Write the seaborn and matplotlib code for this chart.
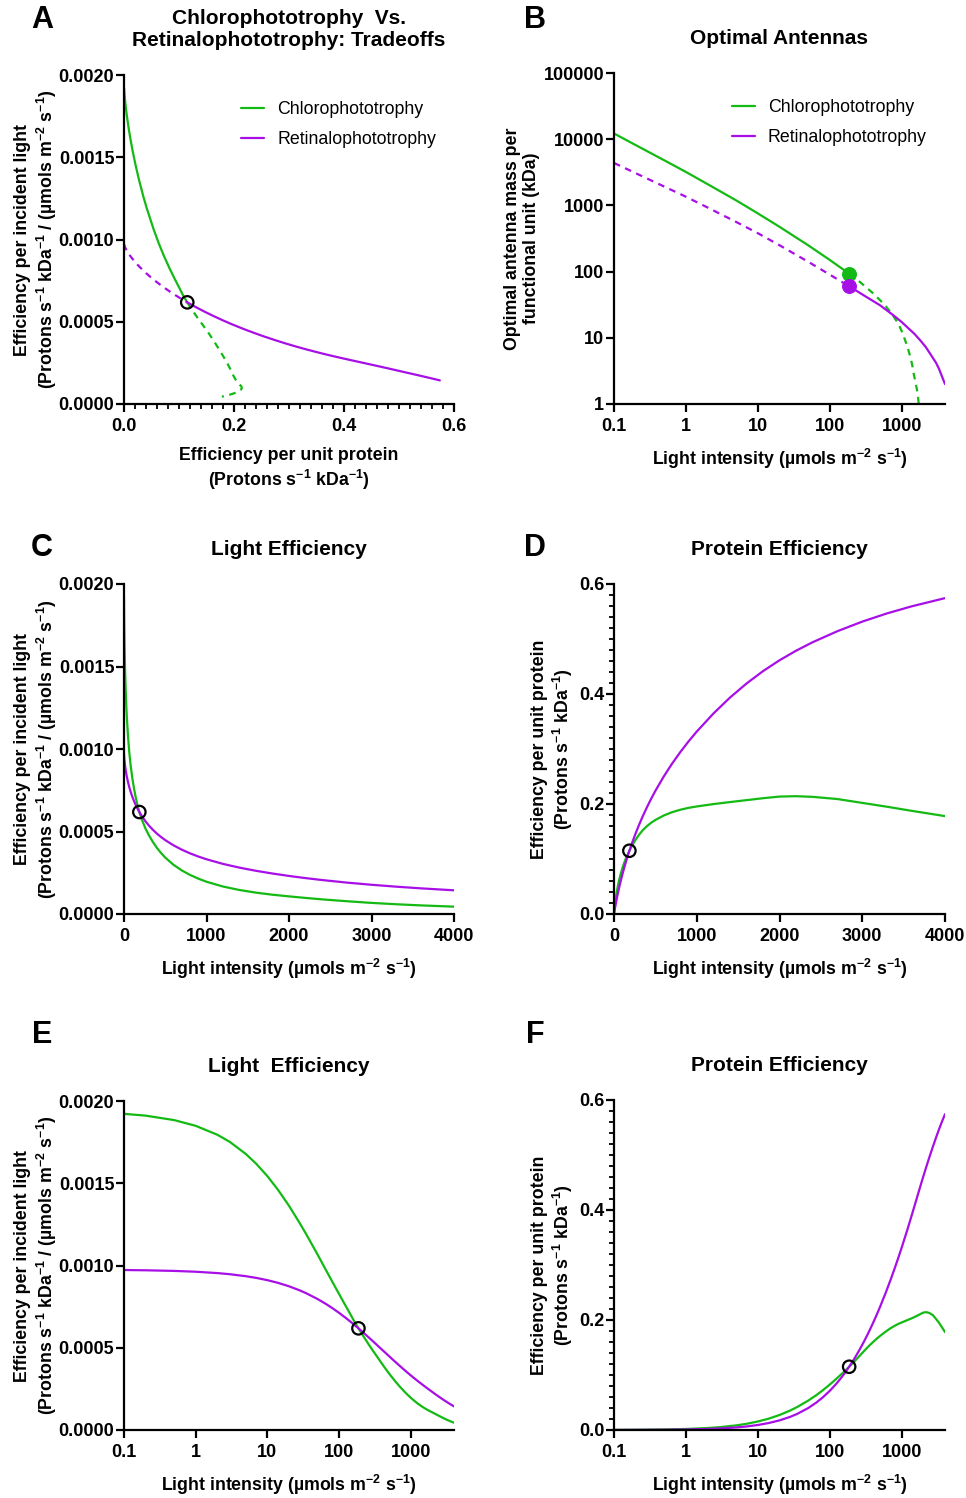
import matplotlib
matplotlib.use("Agg")
import matplotlib.pyplot as plt
import seaborn as sns
import numpy as np
import pandas as pd
from matplotlib.lines import Line2D
from matplotlib.ticker import FixedLocator, MultipleLocator, FuncFormatter, NullLocator, FormatStrFormatter

# ---------------- data ----------------
light_intensity = [0.1, 0.2, 0.5, 1, 2, 3, 5, 7, 10, 14, 20, 28, 35, 50, 65, 80,
                   100, 120, 140, 160, 186, 220, 260, 300, 350, 400, 450, 500,
                   600, 700, 800, 900, 1000, 1200, 1400, 1600, 1800, 2000, 2200,
                   2400, 2700, 3000, 3300, 3600, 4000]

chloro_light_eff = [0.001922, 0.001911, 0.001884, 0.001849, 0.001795, 0.001751,
                    0.001678, 0.001618, 0.001543, 0.001461, 0.001363, 0.001260,
                    0.001188, 0.001067, 0.000975, 0.000903, 0.000826, 0.000764,
                    0.000712, 0.000666, 0.000618, 0.0005673, 0.0005185, 0.0004787,
                    0.0004366, 0.0004000, 0.0003689, 0.000342, 0.0002983, 0.0002643,
                    0.0002369, 0.0002144, 0.0001955, 0.0001665, 0.0001454, 0.0001294,
                    0.0001169, 0.00010675, 0.0000974, 0.00008875, 0.0000774,
                    0.0000673, 0.0000591, 0.0000521, 0.0000445]

chloro_protein_eff = [0.000192, 0.000382, 0.000942, 0.001849, 0.00359, 0.005253,
                      0.00839, 0.01133, 0.01543, 0.02045, 0.02726, 0.03528, 0.04158,
                      0.05335, 0.06338, 0.07224, 0.0826, 0.09168, 0.09968, 0.10656,
                      0.1150, 0.1248, 0.1348, 0.1436, 0.1528, 0.1600, 0.1660, 0.1710,
                      0.1790, 0.1850, 0.1895, 0.1930, 0.1955, 0.1998, 0.2035, 0.2070,
                      0.2105, 0.2135, 0.2142, 0.2130, 0.2090, 0.2020, 0.1950, 0.1875,
                      0.1780]

retinal_light_eff = [0.0009725, 0.0009709, 0.0009671, 0.0009621, 0.0009539, 0.000947,
                     0.000935, 0.0009246, 0.0009108, 0.0008947, 0.0008737, 0.0008495,
                     0.0008308, 0.0007963, 0.0007671, 0.0007416, 0.0007119, 0.0006859,
                     0.0006628, 0.0006421, 0.000618, 0.0005902, 0.0005619, 0.0005372,
                     0.0005103, 0.0004868, 0.0004662, 0.0004478, 0.0004162, 0.00039,
                     0.0003677, 0.0003485, 0.0003317, 0.0003036, 0.0002809, 0.0002618,
                     0.0002453, 0.00023065, 0.0002176, 0.0002059, 0.0001904, 0.0001772,
                     0.0001656, 0.0001554, 0.0001436]

retinal_protein_eff = [0.0000973, 0.000194, 0.000484, 0.000962, 0.001908, 0.002841,
                       0.004675, 0.006472, 0.009108, 0.012526, 0.017474, 0.023786,
                       0.029078, 0.039815, 0.049862, 0.059328, 0.07119, 0.082308,
                       0.092792, 0.102736, 0.1150, 0.129844, 0.146094, 0.16116,
                       0.178605, 0.19472, 0.20979, 0.2239, 0.24972, 0.2730, 0.29416,
                       0.31365, 0.3317, 0.3643, 0.3933, 0.4189, 0.4415, 0.4613, 0.4787,
                       0.4941, 0.5142, 0.5316, 0.5466, 0.5595, 0.5743]

crossing_intensity = 186
crossing_light_eff = 0.000618
crossing_protein_eff = 0.115

# optimal antennas (panel B)
chloro_ant_I_opt = [0.1, 0.2, 0.5, 1, 2, 5, 10, 20, 50, 100, 186]
chloro_ant_opt = [12200, 8150, 4800, 3200, 2095, 1190, 757, 475, 250, 150, 93]
chloro_ant_I_sub = [186, 250, 320, 400, 500, 600, 700, 800, 900, 1000, 1120, 1220,
                    1320, 1400, 1470, 1560, 1640, 1690, 1725]
chloro_ant_sub = [93, 73, 58, 47, 37, 30, 24.4, 19.8, 16.3, 12.6, 9.1, 6.9,
                  5.1, 3.9, 2.85, 2.1, 1.59, 1.25, 1.0]

retinal_ant_I_sub = [0.1, 0.2, 0.5, 1, 2, 5, 10, 20, 50, 100, 186]
retinal_ant_sub = [4375, 3070, 1923, 1352, 929, 562, 380, 250, 141, 90, 60]
retinal_ant_I_opt = [186, 300, 500, 770, 1000, 1190, 1500, 1820, 2150, 2500, 2800,
                     3000, 3300, 3600, 3800, 4000]
retinal_ant_opt = [60, 43.5, 31, 21.8, 17.3, 14.5, 11.5, 9.1, 7.3, 5.7, 4.7,
                   4.2, 3.4, 2.67, 2.3, 2.0]

series_names = ["Chlorophototrophy", "Retinalophototrophy"]

# ---------------- style ----------------
GREEN = "#14BA14"
PURPLE = "#A70FE6"
LW = 1.6
DASH = (0, (3, 2.5))

sns.set_theme(style="ticks")
plt.rcParams.update({
    "font.family": ["Liberation Sans", "DejaVu Sans"],
    "font.weight": "bold",
    "axes.labelweight": "bold",
    "axes.titleweight": "bold",
    "mathtext.fontset": "custom",
    "mathtext.rm": "Liberation Sans:bold",
    "mathtext.it": "Liberation Sans:bold",
    "mathtext.bf": "Liberation Sans:bold",
    "mathtext.default": "rm",
    "axes.edgecolor": "black",
    "axes.linewidth": 1.6,
    "xtick.color": "black",
    "ytick.color": "black",
    "text.color": "black",
    "axes.labelcolor": "black",
    "xtick.labelsize": 13,
    "ytick.labelsize": 13,
    "axes.labelsize": 12.8,
    "axes.titlesize": 15,
})

W, H = 966, 1498
fig = plt.figure(figsize=(W / 100, H / 100), dpi=100)


def box(l, t, r, b):
    return [l / W, 1 - b / H, (r - l) / W, (b - t) / H]


axA = fig.add_axes(box(124, 75, 454, 404))
axB = fig.add_axes(box(614, 73, 945, 404))
axC = fig.add_axes(box(124, 584, 454, 914))
axD = fig.add_axes(box(614, 584, 945, 914))
axE = fig.add_axes(box(124, 1101, 454, 1430))
axF = fig.add_axes(box(614, 1100, 945, 1430))

I = np.array(light_intensity, dtype=float)
chl_L = np.array(chloro_light_eff)
chl_P = np.array(chloro_protein_eff)
ret_L = np.array(retinal_light_eff)
ret_P = np.array(retinal_protein_eff)
low = I <= crossing_intensity
high = I >= crossing_intensity


def line(ax, x, y, color, dashed=False):
    kw = dict(x=np.asarray(x, dtype=float), y=np.asarray(y, dtype=float), ax=ax,
              color=color, lw=LW, sort=False, estimator=None, legend=False)
    if dashed:
        kw["linestyle"] = DASH
    sns.lineplot(**kw)


def open_circle(ax, x, y):
    ax.scatter([x], [y], s=80, facecolors="none", edgecolors="black",
               linewidths=1.6, zorder=5, clip_on=False)


def style_axes(ax):
    sns.despine(ax=ax)
    ax.tick_params(which="major", length=6, width=1.6, color="black")
    ax.tick_params(which="minor", length=3.5, width=1.3, color="black")
    ax.tick_params(axis="y", which="both", pad=1)
    ax.tick_params(axis="x", which="both", pad=4)


y_light_label = ("Efficiency per incident light\n"
                 "(Protons s$^{-1}$ kDa$^{-1}$ / (µmols m$^{-2}$ s$^{-1}$)")
y_prot_label = "Efficiency per unit protein\n(Protons s$^{-1}$ kDa$^{-1}$)"
x_light_label = "Light intensity (µmols m$^{-2}$ s$^{-1}$)"
x_prot_label = "Efficiency per unit protein\n(Protons s$^{-1}$ kDa$^{-1}$)"

legend_handles = [Line2D([0], [0], color=GREEN, lw=LW),
                  Line2D([0], [0], color=PURPLE, lw=LW)]


def add_legend(ax, x0, y0):
    ax.legend(legend_handles, series_names, loc="upper left",
              bbox_to_anchor=(x0, y0), frameon=False, borderpad=0,
              borderaxespad=0, handlelength=1.3, handletextpad=0.75,
              labelspacing=0.72, prop={"weight": "normal", "size": 12.8})


log_fmt = FuncFormatter(lambda v, p: f"{v:g}")
TPAD = 21

# ---------------- Panel A ----------------
line(axA, chl_P[low], chl_L[low], GREEN)
line(axA, chl_P[high], chl_L[high], GREEN, dashed=True)
line(axA, ret_P[low], ret_L[low], PURPLE, dashed=True)
line(axA, ret_P[high], ret_L[high], PURPLE)
open_circle(axA, crossing_protein_eff, crossing_light_eff)
axA.set_xlim(0, 0.6)
axA.set_ylim(0, 0.002)
axA.xaxis.set_major_locator(MultipleLocator(0.2))
axA.xaxis.set_minor_locator(MultipleLocator(0.02))
axA.xaxis.set_major_formatter(FormatStrFormatter("%.1f"))
axA.yaxis.set_major_locator(MultipleLocator(0.0005))
axA.yaxis.set_major_formatter(FormatStrFormatter("%.4f"))
axA.set_xlabel(x_prot_label, labelpad=9)
axA.set_ylabel(y_light_label, labelpad=0)
axA.set_title("Chlorophototrophy  Vs.\nRetinalophototrophy: Tradeoffs", pad=TPAD)
style_axes(axA)
add_legend(axA, 0.355, 0.92)

# ---------------- Panel B ----------------
line(axB, chloro_ant_I_opt, chloro_ant_opt, GREEN)
line(axB, chloro_ant_I_sub, chloro_ant_sub, GREEN, dashed=True)
line(axB, retinal_ant_I_sub, retinal_ant_sub, PURPLE, dashed=True)
line(axB, retinal_ant_I_opt, retinal_ant_opt, PURPLE)
axB.scatter([chloro_ant_I_opt[-1]], [chloro_ant_opt[-1]], s=95, color=GREEN, zorder=5)
axB.scatter([retinal_ant_I_opt[0]], [retinal_ant_opt[0]], s=95, color=PURPLE, zorder=5)
axB.set_xscale("log")
axB.set_yscale("log")
axB.set_xlim(0.1, 4000)
axB.set_ylim(1, 100000)
axB.xaxis.set_major_locator(FixedLocator([0.1, 1, 10, 100, 1000]))
axB.yaxis.set_major_locator(FixedLocator([1, 10, 100, 1000, 10000, 100000]))
axB.xaxis.set_minor_locator(NullLocator())
axB.yaxis.set_minor_locator(NullLocator())
axB.xaxis.set_major_formatter(log_fmt)
axB.yaxis.set_major_formatter(log_fmt)
axB.set_xlabel(x_light_label, labelpad=9)
axB.set_ylabel("Optimal antenna mass per\nfunctional unit (kDa)", labelpad=2.5)
axB.set_title("Optimal Antennas", pad=TPAD)
style_axes(axB)
add_legend(axB, 0.355, 0.92)

# ---------------- Panel C ----------------
line(axC, I, chl_L, GREEN)
line(axC, I, ret_L, PURPLE)
open_circle(axC, crossing_intensity, crossing_light_eff)
axC.set_xlim(0, 4000)
axC.set_ylim(0, 0.002)
axC.xaxis.set_major_locator(MultipleLocator(1000))
axC.yaxis.set_major_locator(MultipleLocator(0.0005))
axC.yaxis.set_major_formatter(FormatStrFormatter("%.4f"))
axC.set_xlabel(x_light_label, labelpad=9)
axC.set_ylabel(y_light_label, labelpad=0)
axC.set_title("Light Efficiency", pad=TPAD)
style_axes(axC)

# ---------------- Panel D ----------------
line(axD, I, chl_P, GREEN)
line(axD, I, ret_P, PURPLE)
open_circle(axD, crossing_intensity, crossing_protein_eff)
axD.set_xlim(0, 4000)
axD.set_ylim(0, 0.6)
axD.xaxis.set_major_locator(MultipleLocator(1000))
axD.yaxis.set_major_locator(MultipleLocator(0.2))
axD.yaxis.set_minor_locator(MultipleLocator(0.02))
axD.yaxis.set_major_formatter(FormatStrFormatter("%.1f"))
axD.set_xlabel(x_light_label, labelpad=9)
axD.set_ylabel(y_prot_label, labelpad=2.5)
axD.set_title("Protein Efficiency", pad=TPAD)
style_axes(axD)

# ---------------- Panel E ----------------
line(axE, I, chl_L, GREEN)
line(axE, I, ret_L, PURPLE)
open_circle(axE, crossing_intensity, crossing_light_eff)
axE.set_xscale("log")
axE.set_xlim(0.1, 4000)
axE.set_ylim(0, 0.002)
axE.xaxis.set_major_locator(FixedLocator([0.1, 1, 10, 100, 1000]))
axE.xaxis.set_minor_locator(NullLocator())
axE.xaxis.set_major_formatter(log_fmt)
axE.yaxis.set_major_locator(MultipleLocator(0.0005))
axE.yaxis.set_major_formatter(FormatStrFormatter("%.4f"))
axE.set_xlabel(x_light_label, labelpad=9)
axE.set_ylabel(y_light_label, labelpad=0)
axE.set_title("Light  Efficiency", pad=TPAD)
style_axes(axE)

# ---------------- Panel F ----------------
line(axF, I, chl_P, GREEN)
line(axF, I, ret_P, PURPLE)
open_circle(axF, crossing_intensity, crossing_protein_eff)
axF.set_xscale("log")
axF.set_xlim(0.1, 4000)
axF.set_ylim(0, 0.6)
axF.xaxis.set_major_locator(FixedLocator([0.1, 1, 10, 100, 1000]))
axF.xaxis.set_minor_locator(NullLocator())
axF.xaxis.set_major_formatter(log_fmt)
axF.yaxis.set_major_locator(MultipleLocator(0.2))
axF.yaxis.set_minor_locator(MultipleLocator(0.02))
axF.yaxis.set_major_formatter(FormatStrFormatter("%.1f"))
axF.set_xlabel(x_light_label, labelpad=9)
axF.set_ylabel(y_prot_label, labelpad=2.5)
axF.set_title("Protein Efficiency", pad=TPAD)
style_axes(axF)

# ---------------- panel letters ----------------
for letter, (px, py) in {"A": (42, 20), "B": (535, 20), "C": (42, 548),
                         "D": (535, 548), "E": (42, 1035), "F": (535, 1035)}.items():
    fig.text(px / W, 1 - py / H, letter, fontsize=22, fontweight="bold",
             ha="center", va="center")

fig.savefig("out.png", dpi=100)
